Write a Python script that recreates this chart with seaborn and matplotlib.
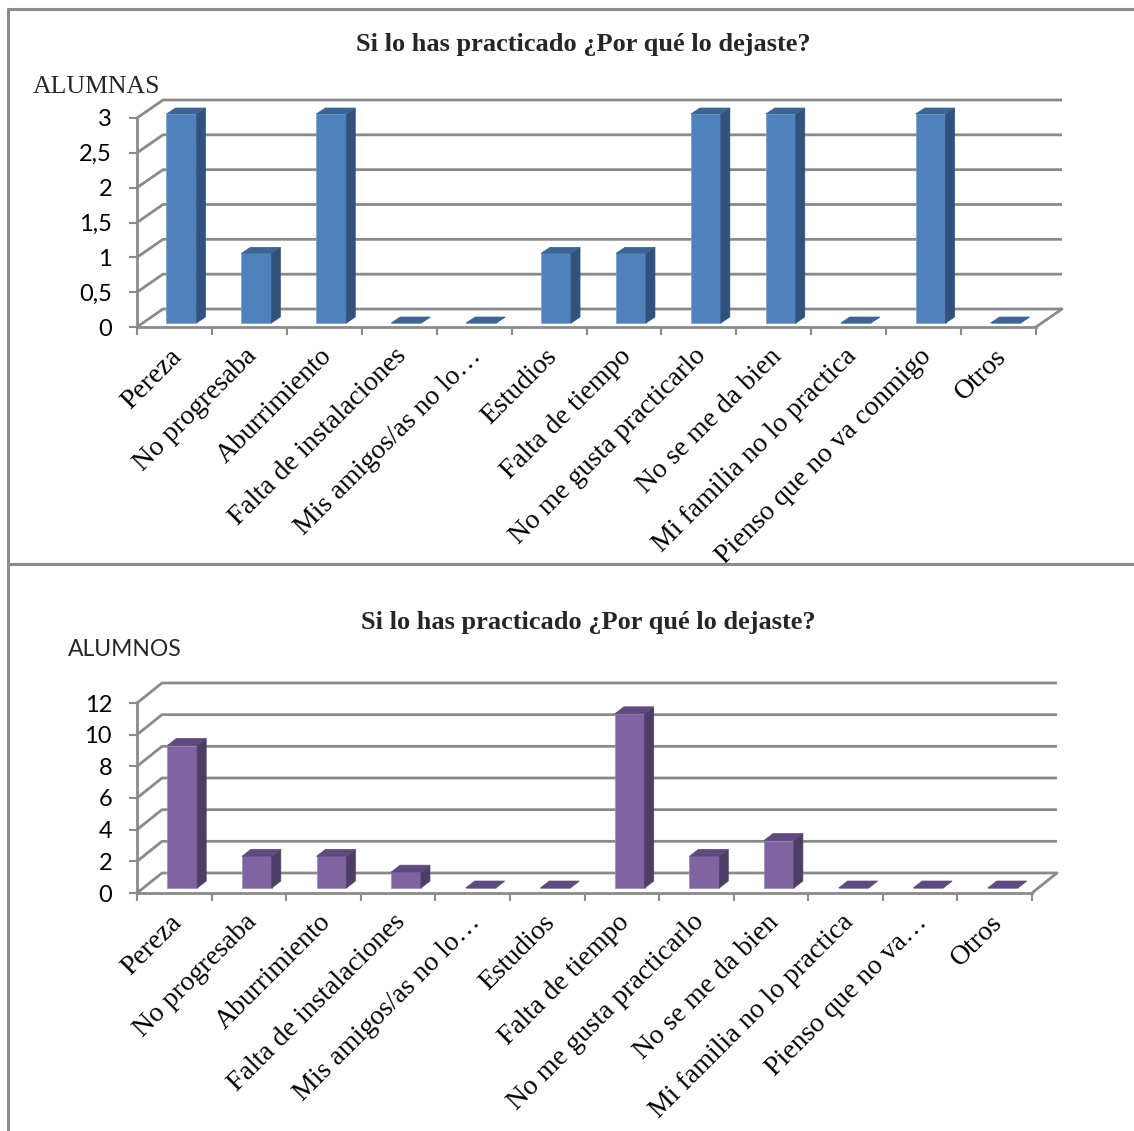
import matplotlib
matplotlib.use("Agg")
import matplotlib.pyplot as plt
import matplotlib.transforms as mtransforms
from matplotlib.patches import Polygon
from matplotlib.lines import Line2D
from matplotlib.ticker import FixedLocator
import numpy as np
import pandas as pd
import seaborn as sns

# ---------------- data ----------------
title = "Si lo has practicado ¿Por qué lo dejaste?"

categories_top = ["Pereza", "No progresaba", "Aburrimiento", "Falta de instalaciones",
                  "Mis amigos/as no lo…", "Estudios", "Falta de tiempo",
                  "No me gusta practicarlo", "No se me da bien",
                  "Mi familia no lo practica", "Pienso que no va conmigo", "Otros"]
alumnas = [3, 1, 3, 0, 0, 1, 1, 3, 3, 0, 3, 0]
yticks_top = [0, 0.5, 1, 1.5, 2, 2.5, 3]
ylabels_top = ["0", "0,5", "1", "1,5", "2", "2,5", "3"]

categories_bottom = ["Pereza", "No progresaba", "Aburrimiento", "Falta de instalaciones",
                     "Mis amigos/as no lo…", "Estudios", "Falta de tiempo",
                     "No me gusta practicarlo", "No se me da bien",
                     "Mi familia no lo practica", "Pienso que no va…", "Otros"]
alumnos = [9, 2, 2, 1, 0, 0, 11, 2, 3, 0, 0, 0]
yticks_bottom = [0, 2, 4, 6, 8, 10, 12]
ylabels_bottom = ["0", "2", "4", "6", "8", "10", "12"]

# ---------------- figure ----------------
sns.set_theme(style="white")
W, H = 1134, 1131
fig = plt.figure(figsize=(W / 100, H / 100), dpi=100)
fig.patch.set_facecolor("white")

GRID = "#8A8A8A"
SERIF = "Liberation Serif"
SANS = "Lato"


def px_axes(left, right, top, bottom):
    return fig.add_axes([left / W, 1 - bottom / H, (right - left) / W, (bottom - top) / H])


def panel(ax, cats, vals, yt, yl, ymax, geom, cfront, cside, ctop, cedge):
    left, right, top, bottom, back, bar_off, depth = geom
    n = len(cats)
    pxx = (right - left) / n
    pxy = (bottom - top) / ymax
    df = pd.DataFrame({"cat": cats, "val": vals})
    sns.barplot(data=df, x="cat", y="val", color=cfront, saturation=1, width=0.4,
                ax=ax, edgecolor=cedge, linewidth=0.5, zorder=3)
    ax.set_xlim(-0.5, n - 0.5)
    ax.set_ylim(0, ymax)
    ax.set_xlabel("")
    ax.set_ylabel("")
    ax.set_facecolor("none")

    off = mtransforms.ScaledTranslation(bar_off[0] / 100, bar_off[1] / 100, fig.dpi_scale_trans)
    ddx, ddy = depth[0] / pxx, depth[1] / pxy
    for p in list(ax.patches):
        tr = ax.transData + off
        p.set_transform(tr)
        p.set_clip_on(False)
        x0 = p.get_x()
        x1 = x0 + p.get_width()
        h = p.get_height()
        side = Polygon([(x1, 0), (x1 + ddx, ddy), (x1 + ddx, h + ddy), (x1, h)],
                       closed=True, facecolor=cside, edgecolor=cside, lw=0.5,
                       transform=tr, zorder=3, clip_on=False)
        topf = Polygon([(x0, h), (x0 + ddx, h + ddy), (x1 + ddx, h + ddy), (x1, h)],
                       closed=True, facecolor=ctop, edgecolor=ctop, lw=0.5,
                       transform=tr, zorder=3, clip_on=False)
        ax.add_patch(side)
        ax.add_patch(topf)

    # back wall gridlines
    bx, by = back[0] / pxx, back[1] / pxy
    for v in yt:
        ax.add_line(Line2D([-0.5, -0.5 + bx, n - 0.5 + bx], [v, v + by, v + by],
                           color=GRID, lw=2, zorder=1, clip_on=False,
                           solid_capstyle="butt"))
    ax.add_line(Line2D([n - 0.5, n - 0.5 + bx], [0, by], color=GRID, lw=2,
                       zorder=1, clip_on=False))

    for s in ["top", "right"]:
        ax.spines[s].set_visible(False)
    for s in ["left", "bottom"]:
        ax.spines[s].set_color(GRID)
        ax.spines[s].set_linewidth(2)
    ax.set_yticks(yt)
    ax.set_yticklabels(yl, fontfamily=SANS, fontsize=17, color="black")
    ax.tick_params(axis="y", length=6, width=1.5, color=GRID, pad=12, direction="out", left=True)
    ax.set_xticks(range(n))
    ax.set_xticklabels(cats, fontfamily=SERIF, fontsize=20, rotation=45, ha="right",
                       rotation_mode="anchor", color="black")
    ax.tick_params(axis="x", length=0, pad=12)
    ax.xaxis.set_minor_locator(FixedLocator(np.arange(-0.5, n, 1.0)))
    ax.tick_params(axis="x", which="minor", length=6, width=1.5, color=GRID, direction="out", bottom=True)
    shift = mtransforms.ScaledTranslation(-0.05, 0.0, fig.dpi_scale_trans)
    for lab in ax.get_xticklabels():
        lab.set_transform(lab.get_transform() + shift)
    ax.grid(False)


# top panel: left, right, top(ymax), bottom(0), back offset, bar offset, depth
ax1 = px_axes(137, 1036, 118, 327)
panel(ax1, categories_top, alumnas, yticks_top, ylabels_top, 3,
      (137, 1036, 118, 327, (26, 18), (7, 4), (9, 6)),
      "#4F81BD", "#30527C", "#3C6595", "#7C9FCF")

ax2 = px_axes(137, 1032, 703, 893)
panel(ax2, categories_bottom, alumnos, yticks_bottom, ylabels_bottom, 12,
      (137, 1032, 703, 893, (25, 20), (8, 5), (9, 7)),
      "#8064A2", "#4E3D66", "#60497F", "#9A85B8")

# titles and axis captions
fig.text(583 / W, 1 - 45 / H, title, ha="center", va="center",
         fontfamily=SERIF, fontweight="bold", fontsize=19)
fig.text(588 / W, 1 - 622 / H, title, ha="center", va="center",
         fontfamily=SERIF, fontweight="bold", fontsize=19)
fig.text(33 / W, 1 - 87 / H, "ALUMNAS", ha="left", va="center",
         fontfamily=SERIF, fontsize=18.5)
fig.text(68 / W, 1 - 649 / H, "ALUMNOS", ha="left", va="center",
         fontfamily=SANS, fontsize=16.5)

# frame lines
for xs, ys in [([8, W], [9, 9]), ([8, 8], [9, H]), ([8, W], [564, 564])]:
    fig.add_artist(Line2D([x / W for x in xs], [1 - y / H for y in ys],
                          transform=fig.transFigure, color="#8C8C8C", lw=2.2))

fig.savefig("out.png", dpi=100, facecolor="white")
